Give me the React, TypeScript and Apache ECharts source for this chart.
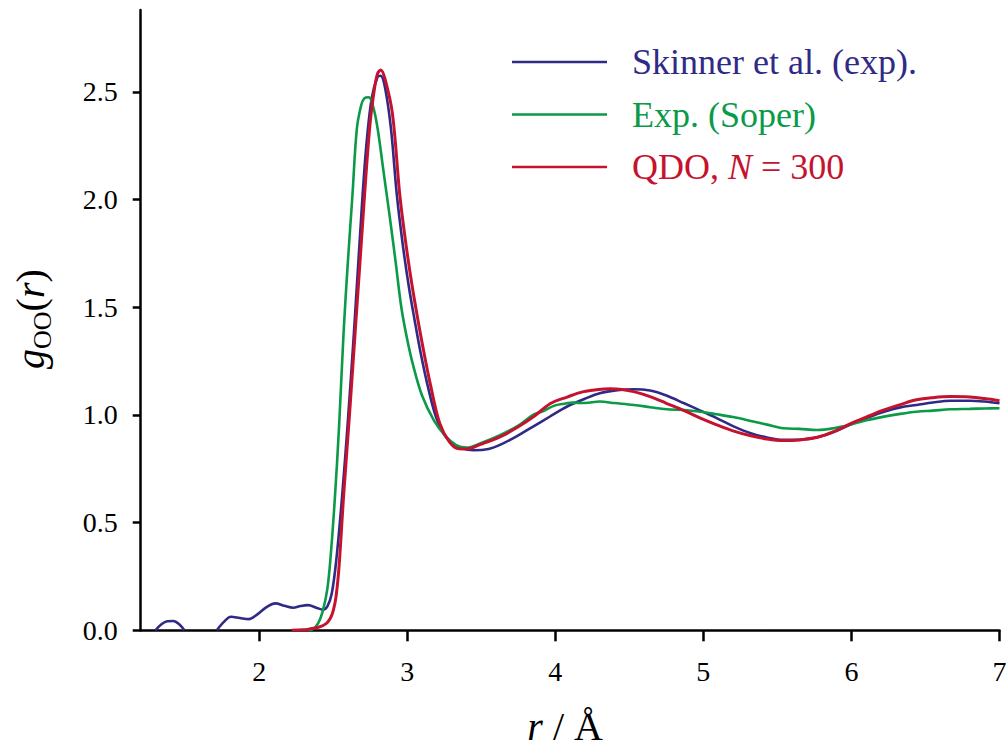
import React, { useEffect, useRef } from "react";
import * as echarts from "echarts";

// ---- data ----
const seriesNames = ["Skinner et al. (exp).", "Exp. (Soper)", "QDO, N = 300"];
const seriesColors = ["#2f2a86", "#0b9a47", "#c5122e"];

const xTicks = [2, 3, 4, 5, 6, 7];
const yTicks = [0, 0.5, 1.0, 1.5, 2.0, 2.5];

// Skinner et al. (exp.) — gap between the two low-r segments
const skinnerR = [
  1.30, 1.34, 1.38, 1.42, 1.46, 1.495, null,
  1.714, 1.76, 1.81, 1.87, 1.93, 1.99, 2.05, 2.11, 2.17, 2.23, 2.28, 2.33, 2.39, 2.43,
  2.46, 2.49, 2.52, 2.56, 2.60, 2.64, 2.68, 2.72, 2.76, 2.80, 2.82, 2.85, 2.89, 2.93, 2.97,
  3.01, 3.05, 3.09, 3.14, 3.20, 3.27, 3.36, 3.45, 3.55, 3.63, 3.75, 3.85, 3.97, 4.08,
  4.20, 4.30, 4.42, 4.53, 4.64, 4.75, 4.87, 4.98, 5.09, 5.20, 5.32, 5.43, 5.54, 5.65,
  5.77, 5.88, 5.99, 6.10, 6.22, 6.33, 6.44, 6.55, 6.67, 6.80, 6.90, 7.00,
];
const skinnerG = [
  0, 0.028, 0.042, 0.043, 0.028, 0, null,
  0, 0.038, 0.063, 0.057, 0.052, 0.075, 0.108, 0.125, 0.114, 0.105, 0.113, 0.117, 0.104, 0.096,
  0.11, 0.17, 0.32, 0.62, 0.98, 1.38, 1.82, 2.22, 2.47, 2.57, 2.575, 2.52, 2.33, 2.02, 1.79,
  1.60, 1.44, 1.29, 1.13, 0.98, 0.89, 0.848, 0.836, 0.842, 0.862, 0.905, 0.946, 0.995, 1.039,
  1.075, 1.101, 1.115, 1.119, 1.113, 1.09, 1.054, 1.02, 0.985, 0.948, 0.915, 0.895, 0.884, 0.885,
  0.896, 0.92, 0.954, 0.985, 1.015, 1.035, 1.046, 1.058, 1.066, 1.066, 1.062, 1.054,
];

// Exp. (Soper)
const soperR = [
  2.33, 2.36, 2.40, 2.43, 2.46, 2.48, 2.51, 2.54, 2.57, 2.60, 2.63, 2.66, 2.69, 2.71, 2.74,
  2.77, 2.80, 2.84, 2.88, 2.92, 2.96, 3.00, 3.04, 3.10, 3.18, 3.26, 3.33, 3.40, 3.50, 3.63,
  3.75, 3.85, 3.92, 3.99, 4.06, 4.12, 4.20, 4.30, 4.40, 4.53, 4.64, 4.75, 4.87, 4.98, 5.09,
  5.20, 5.32, 5.43, 5.54, 5.65, 5.77, 5.88, 5.99, 6.10, 6.22, 6.33, 6.44, 6.55, 6.67, 6.80,
  6.90, 7.00,
];
const soperG = [
  0, 0.004, 0.035, 0.09, 0.19, 0.32, 0.6, 0.95, 1.38, 1.72, 2.02, 2.33, 2.44, 2.47, 2.475,
  2.43, 2.33, 2.13, 1.93, 1.72, 1.50, 1.35, 1.23, 1.09, 0.975, 0.9, 0.86, 0.848, 0.87, 0.907,
  0.95, 1.0, 1.018, 1.042, 1.052, 1.057, 1.055, 1.062, 1.055, 1.046, 1.036, 1.026, 1.023, 1.015, 1.003,
  0.99, 0.972, 0.955, 0.938, 0.935, 0.93, 0.938, 0.954, 0.975, 0.992, 1.005, 1.015, 1.02, 1.026, 1.028,
  1.03, 1.031,
];

// QDO, N = 300
const qdoR = [
  2.22, 2.30, 2.34, 2.40, 2.45, 2.48, 2.50, 2.52, 2.54, 2.57, 2.61, 2.65, 2.69, 2.72, 2.75, 2.78, 2.80,
  2.822, 2.85, 2.90, 2.95, 2.99, 3.03, 3.07, 3.11, 3.16, 3.22, 3.28, 3.34, 3.40, 3.49, 3.63,
  3.75, 3.85, 3.97, 4.08, 4.19, 4.29, 4.37, 4.45, 4.53, 4.64, 4.75, 4.87, 4.98, 5.09, 5.20,
  5.32, 5.43, 5.54, 5.65, 5.77, 5.88, 5.99, 6.10, 6.22, 6.33, 6.44, 6.55, 6.67, 6.80, 6.90,
  7.00,
];
const qdoG = [
  0, 0.002, 0.006, 0.014, 0.03, 0.055, 0.09, 0.16, 0.3, 0.62, 1.0, 1.40, 1.80, 2.10, 2.36, 2.52, 2.585,
  2.602, 2.56, 2.40, 2.02, 1.80, 1.612, 1.45, 1.30, 1.13, 0.96, 0.88, 0.844, 0.842, 0.862, 0.899,
  0.945, 0.99, 1.054, 1.083, 1.108, 1.118, 1.121, 1.118, 1.108, 1.085, 1.054, 1.02, 0.985, 0.954, 0.926,
  0.903, 0.888, 0.881, 0.884, 0.896, 0.922, 0.958, 0.99, 1.023, 1.048, 1.07, 1.08, 1.085, 1.083, 1.076,
  1.066,
];

const FONT = '"Liberation Serif", "Times New Roman", Times, serif';

function pairs(xs: (number | null)[], ys: (number | null)[]) {
  return xs.map((x, i) => (x === null || ys[i] === null ? [null, null] : [x, ys[i]]));
}

export default function App() {
  const ref = useRef<HTMLDivElement>(null);

  useEffect(() => {
    if (!ref.current) return;
    const chart = echarts.init(ref.current, null, { renderer: "svg" });

    const dataSets = [pairs(skinnerR, skinnerG), pairs(soperR, soperG), pairs(qdoR, qdoG)];
    const LFS = 36;

    const option: any = {
      animation: false,
      backgroundColor: "#ffffff",
      textStyle: { fontFamily: FONT },
      grid: {
        left: 140.7,
        right: 6.5,
        top: 10,
        bottom: 112.7,
        containLabel: false,
        outerBoundsMode: "none",
      },
      legend: {
        orient: "vertical",
        left: 512,
        top: 42,
        padding: 0,
        itemGap: 12.5,
        itemWidth: 95,
        itemHeight: 2.6,
        icon: "rect",
        data: seriesNames.map((n) => ({ name: n, icon: "rect" })),
        formatter: (name: string) => {
          if (name === seriesNames[0]) return `{b|${name}}`;
          if (name === seriesNames[1]) return `{g|${name}}`;
          return `{r|QDO, }{ri|N}{r| = 300}`;
        },
        textStyle: {
          fontFamily: FONT,
          fontSize: LFS,
          lineHeight: 40,
          padding: [0, 0, 0, 20],
          rich: {
            b: { color: seriesColors[0], fontFamily: FONT, fontSize: LFS, lineHeight: 40 },
            g: { color: seriesColors[1], fontFamily: FONT, fontSize: LFS, lineHeight: 40 },
            r: { color: seriesColors[2], fontFamily: FONT, fontSize: LFS, lineHeight: 40 },
            ri: {
              color: seriesColors[2],
              fontFamily: FONT,
              fontSize: LFS,
              lineHeight: 40,
              fontStyle: "italic",
            },
          },
        },
      },
      xAxis: {
        type: "value",
        min: 1.2,
        max: 7,
        name: "{i|r}{n| / Å}",
        nameLocation: "middle",
        nameGap: 76,
        nameTextStyle: {
          fontFamily: FONT,
          fontSize: 40,
          color: "#000",
          padding: [0, 10, 0, 0],
          rich: {
            i: { fontFamily: FONT, fontSize: 40, fontStyle: "italic", color: "#000" },
            n: { fontFamily: FONT, fontSize: 40, color: "#000" },
          },
        },
        axisLine: { show: true, onZero: false, lineStyle: { color: "#000", width: 2.5 } },
        axisTick: {
          show: true,
          inside: false,
          length: 11,
          customValues: xTicks,
          lineStyle: { color: "#000", width: 2.5 },
        },
        axisLabel: {
          show: true,
          customValues: xTicks,
          margin: 27,
          fontFamily: FONT,
          fontSize: 28,
          color: "#000",
          formatter: (v: number) => String(Math.round(v)),
          showMinLabel: true,
          showMaxLabel: true,
          hideOverlap: false,
        },
        splitLine: { show: false },
      },
      yAxis: {
        type: "value",
        min: 0,
        max: 2.88,
        axisLine: { show: true, onZero: false, lineStyle: { color: "#000", width: 2.5 } },
        axisTick: {
          show: true,
          inside: false,
          length: 8,
          customValues: yTicks,
          lineStyle: { color: "#000", width: 2.5 },
        },
        axisLabel: {
          show: true,
          customValues: yTicks,
          margin: 23,
          fontFamily: FONT,
          fontSize: 28,
          color: "#000",
          formatter: (v: number) => v.toFixed(1),
        },
        splitLine: { show: false },
      },
      graphic: [
        {
          type: "group",
          x: 30,
          y: 319,
          rotation: Math.PI / 2,
          children: [
            {
              type: "text",
              x: -50,
              y: 0,
              style: {
                text: "g",
                fontFamily: FONT,
                fontSize: 40,
                fontStyle: "italic",
                fill: "#000",
                align: "left",
                verticalAlign: "middle",
              },
            },
            {
              type: "text",
              x: -30,
              y: 12,
              style: {
                text: "OO",
                fontFamily: FONT,
                fontSize: 26,
                fill: "#000",
                align: "left",
                verticalAlign: "middle",
              },
            },
            {
              type: "text",
              x: 7.6,
              y: 0,
              style: {
                text: "(",
                fontFamily: FONT,
                fontSize: 40,
                fill: "#000",
                align: "left",
                verticalAlign: "middle",
              },
            },
            {
              type: "text",
              x: 20.9,
              y: 0,
              style: {
                text: "r",
                fontFamily: FONT,
                fontSize: 40,
                fontStyle: "italic",
                fill: "#000",
                align: "left",
                verticalAlign: "middle",
              },
            },
            {
              type: "text",
              x: 36.5,
              y: 0,
              style: {
                text: ")",
                fontFamily: FONT,
                fontSize: 40,
                fill: "#000",
                align: "left",
                verticalAlign: "middle",
              },
            },
          ],
        },
      ],
      series: seriesNames.map((name, i) => ({
        name,
        type: "line",
        data: dataSets[i],
        showSymbol: false,
        symbol: "none",
        smooth: 0.35,
        connectNulls: false,
        clip: true,
        lineStyle: { color: seriesColors[i], width: i === 2 ? 3 : 2.6 },
        itemStyle: { color: seriesColors[i] },
        z: 2 + i,
      })),
    };

    chart.setOption(option);
    return () => chart.dispose();
  }, []);

  return (
    <div
      ref={ref}
      style={{ position: "fixed", left: 0, top: 0, width: 1006, height: 743, background: "#fff" }}
    />
  );
}
